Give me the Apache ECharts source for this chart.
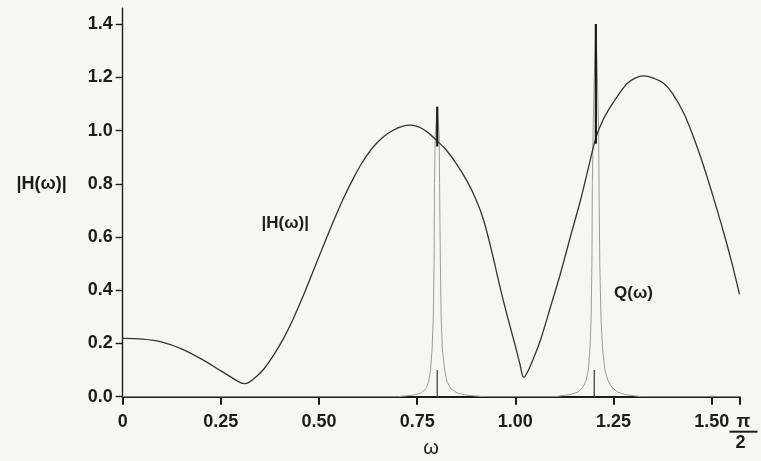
<!DOCTYPE html>
<html>
<head>
<meta charset="utf-8">
<script src="https://cdn.jsdelivr.net/npm/echarts@6/dist/echarts.min.js"></script>
<style>
  html, body { margin: 0; padding: 0; background: #f6f6f4; }
  #chart { width: 761px; height: 461px; }
</style>
</head>
<body>
<div id="chart"></div>
<script>
// Frequency axis runs from 0 to pi/2
const HALF_PI = Math.PI / 2;
const xTickValues = [0, 0.25, 0.5, 0.75, 1.0, 1.25, 1.5];
const yTickValues = [0, 0.2, 0.4, 0.6, 0.8, 1.0, 1.2, 1.4];

// |H(w)| magnitude response, [w, |H|]
const magnitude = [
  [0, 0.219], [0.05, 0.216], [0.10, 0.205], [0.15, 0.180], [0.20, 0.142],
  [0.25, 0.097], [0.28, 0.070], [0.30, 0.053], [0.31, 0.049], [0.32, 0.053],
  [0.34, 0.075], [0.36, 0.105], [0.384, 0.155], [0.41, 0.220], [0.435, 0.295],
  [0.46, 0.380], [0.486, 0.475], [0.51, 0.563], [0.537, 0.660], [0.56, 0.738],
  [0.588, 0.822], [0.61, 0.880], [0.639, 0.940], [0.665, 0.978], [0.69, 1.002],
  [0.71, 1.015], [0.733, 1.020], [0.755, 1.013], [0.775, 0.995], [0.80, 0.962],
  [0.825, 0.925], [0.85, 0.875], [0.877, 0.810], [0.90, 0.740], [0.919, 0.664],
  [0.94, 0.545], [0.962, 0.405], [0.98, 0.300], [1.00, 0.190], [1.012, 0.120],
  [1.021, 0.073], [1.03, 0.090], [1.045, 0.140], [1.064, 0.213], [1.09, 0.340],
  [1.115, 0.464], [1.14, 0.600], [1.166, 0.739], [1.186, 0.860], [1.206, 0.977],
  [1.225, 1.045], [1.242, 1.089], [1.265, 1.140], [1.285, 1.177], [1.305, 1.197],
  [1.327, 1.205], [1.35, 1.198], [1.378, 1.177], [1.40, 1.140], [1.429, 1.065],
  [1.455, 0.970], [1.48, 0.864], [1.505, 0.745], [1.531, 0.614], [1.55, 0.510],
  [1.5708, 0.385]
];

// Q(w): two narrow resonance peaks, [w, Q]
const qCurve = [
  [0, 0], [0.70, 0],
  [0.74, 0.006], [0.76, 0.014], [0.772, 0.030], [0.779, 0.055], [0.784, 0.100],
  [0.788, 0.180], [0.791, 0.300], [0.793, 0.500], [0.794, 0.800], [0.796, 0.980],
  [0.801, 1.089],
  [0.806, 0.980], [0.807, 0.800], [0.809, 0.500], [0.811, 0.300], [0.814, 0.180],
  [0.820, 0.100], [0.826, 0.055], [0.836, 0.030], [0.852, 0.014], [0.875, 0.006],
  [0.92, 0], [1.10, 0],
  [1.14, 0.008], [1.16, 0.018], [1.172, 0.035], [1.18, 0.060], [1.186, 0.100],
  [1.19, 0.180], [1.193, 0.300], [1.195, 0.500], [1.196, 0.800], [1.198, 1.000],
  [1.201, 1.200], [1.205, 1.400],
  [1.209, 1.200], [1.212, 1.000], [1.213, 0.800], [1.215, 0.500], [1.218, 0.300],
  [1.222, 0.180], [1.228, 0.100], [1.236, 0.060], [1.246, 0.035], [1.26, 0.018],
  [1.28, 0.008], [1.32, 0], [HALF_PI, 0]
];

// Heavy upper part of each resonance line and short base markers
const resonanceTops = [
  [[0.801, 0.94], [0.801, 1.089]],
  [[1.205, 0.95], [1.205, 1.400]]
];
const resonanceStubs = [
  [[0.801, 0], [0.801, 0.10]],
  [[1.201, 0], [1.201, 0.10]]
];

const FONT = '"Liberation Sans", Arial, Helvetica, sans-serif';
const INK = '#1c1c1c';

const chart = echarts.init(document.getElementById('chart'), null, { renderer: 'canvas' });

const segmentSeries = (segs, color, width) => segs.map(seg => ({
  type: 'line',
  data: seg,
  symbol: 'none',
  silent: true,
  lineStyle: { color: color, width: width },
  z: 4
}));

chart.setOption({
  backgroundColor: '#f6f6f4',
  animation: false,
  grid: {
    left: 122.7, right: 21.5, top: 8.1, bottom: 64.3,
    containLabel: false, outerBoundsMode: 'none'
  },
  xAxis: {
    type: 'value',
    min: 0,
    max: HALF_PI,
    name: 'ω',
    nameLocation: 'middle',
    nameGap: 42,
    nameTextStyle: { fontFamily: FONT, fontSize: 20, color: INK },
    axisLine: { show: true, lineStyle: { color: INK, width: 2 } },
    axisTick: {
      show: true, inside: false, length: 8,
      customValues: xTickValues.concat([HALF_PI]),
      lineStyle: { color: INK, width: 2 }
    },
    axisLabel: {
      customValues: xTickValues,
      margin: 16,
      fontFamily: FONT, fontSize: 18, fontWeight: 'bold', color: INK,
      formatter: v => (v === 0 ? '0' : v.toFixed(2))
    },
    splitLine: { show: false }
  },
  yAxis: {
    type: 'value',
    min: 0,
    max: 1.46,
    axisLine: { show: true, lineStyle: { color: INK, width: 1.4 } },
    axisTick: {
      show: true, inside: false, length: 7,
      customValues: yTickValues,
      lineStyle: { color: INK, width: 1.4 }
    },
    axisLabel: {
      customValues: yTickValues,
      margin: 10,
      fontFamily: FONT, fontSize: 18, fontWeight: 'bold', color: INK,
      formatter: v => v.toFixed(1)
    },
    splitLine: { show: false }
  },
  series: [
    {
      name: 'Q(ω)',
      type: 'line',
      data: qCurve,
      symbol: 'none',
      silent: true,
      lineStyle: { color: '#9c9c9c', width: 1 },
      z: 2
    },
    {
      name: '|H(ω)|',
      type: 'line',
      data: magnitude,
      symbol: 'none',
      smooth: 0.35,
      silent: true,
      lineStyle: { color: '#333333', width: 1.3 },
      z: 3
    }
  ]
  .concat(segmentSeries(resonanceTops, '#1a1a1a', 2.2))
  .concat(segmentSeries(resonanceStubs, '#444444', 1.3))
});

// Text annotations anchored to data coordinates
const px = (x, y) => chart.convertToPixel({ gridIndex: 0 }, [x, y]);
const hLabel = px(0.414, 0.652);
const qLabel = px(1.301, 0.39);
const yName = px(0, 0.8);
const axisEnd = px(HALF_PI, 0);

const textStyle = (t, size, weight) => ({
  text: t, fontFamily: FONT, fontSize: size, fontWeight: weight || 'normal',
  fill: INK, align: 'center', verticalAlign: 'middle'
});

chart.setOption({
  graphic: [
    { type: 'text', x: hLabel[0], y: hLabel[1], style: textStyle('|H(ω)|', 17, 'bold') },
    { type: 'text', x: qLabel[0], y: qLabel[1], style: textStyle('Q(ω)', 17, 'bold') },
    { type: 'text', x: yName[0] - 81, y: yName[1], style: textStyle('|H(ω)|', 18, 'bold') },
    {
      type: 'group',
      x: axisEnd[0] + 4,
      y: axisEnd[1],
      children: [
        { type: 'text', x: 0, y: 25, style: textStyle('π', 18, 'bold') },
        { type: 'line', shape: { x1: -14, y1: 35, x2: 14, y2: 35 }, style: { stroke: INK, lineWidth: 2 } },
        { type: 'text', x: -3, y: 46, style: textStyle('2', 18, 'bold') }
      ]
    }
  ]
});
</script>
</body>
</html>
